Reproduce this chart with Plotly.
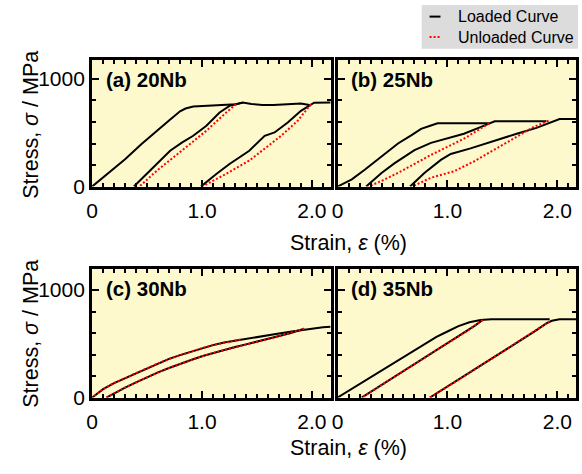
import plotly.graph_objects as go

W, H = 582, 474

# ---------------- data (strain %, stress MPa) ----------------
# (a) 20Nb
a_load_x = [0, 0.15, 0.3, 0.45, 0.6, 0.7, 0.8, 0.85, 0.92, 1.05, 1.16, 1.25, 1.31, 1.37, None,
            0.38, 0.45, 0.53, 0.62, 0.71, 0.82, 0.92, 1.04, 1.16, 1.25, 1.32, 1.37, 1.45, 1.55, 1.65, 1.78, 1.9, 1.99, None,
            0.99, 1.06, 1.13, 1.25, 1.34, 1.43, 1.57, 1.66, 1.78, 1.9, 2.02, 2.1, 2.17]
a_load_y = [0, 125, 253, 395, 530, 615, 700, 725, 744, 752, 759, 762, 765, 780, None,
            0, 70, 148, 245, 333, 410, 472, 565, 688, 750, 765, 780, 768, 758, 757, 765, 772, 755, None,
            0, 60, 117, 210, 270, 333, 472, 503, 596, 704, 780, 782, 782]
a_unl_x = [1.31, 1.22, 1.04, 0.83, 0.59, 0.43, None, 1.99, 1.87, 1.72, 1.43, 1.19, 1.0]
a_unl_y = [765, 688, 519, 349, 148, 0, None, 765, 611, 472, 241, 102, 0]

# (b) 25Nb
b_load_x = [0, 0.13, 0.25, 0.40, 0.55, 0.67, 0.76, 0.85, 0.91, 1.1, 1.3, 1.38, None,
            0.26, 0.40, 0.52, 0.70, 0.85, 1.0, 1.15, 1.30, 1.39, 1.43, 1.6, 1.75, 1.9, None,
            0.66, 0.79, 0.94, 1.03, 1.21, 1.39, 1.63, 1.81, 1.90, 2.02, 2.1, 2.17]
b_load_y = [0, 67, 158, 279, 400, 476, 536, 567, 588, 588, 588, 588, None,
            0, 127, 218, 339, 406, 445, 491, 552, 588, 606, 606, 606, 606, None,
            0, 127, 248, 303, 355, 415, 491, 545, 582, 627, 627, 627]
b_unl_x = [1.38, 1.15, 0.85, 0.55, 0.40, 0.28, None, 1.92, 1.78, 1.60, 1.42, 1.24, 1.06, 0.85, 0.68]
b_unl_y = [588, 445, 294, 127, 52, 0, None, 612, 552, 445, 339, 233, 142, 82, 0]

# (c) 30Nb
c_load_x = [0, 0.05, 0.1, 0.2, 0.3, 0.4, 0.5, 0.6, 0.7, 0.8, 0.9, 1.0, 1.1, 1.2, 1.3, 1.4, 1.5,
            1.6, 1.7, 1.8, 1.9, 2.0, 2.1, 2.17, None,
            0.13, 0.2, 0.3, 0.4, 0.5, 0.6, 0.7, 0.8, 0.9, 1.0, 1.1, 1.2, 1.3, 1.4, 1.5, 1.6, 1.7, 1.8, 1.93]
c_load_y = [0, 40, 78, 135, 180, 228, 275, 318, 360, 395, 428, 460, 488, 512, 530, 548, 565,
            580, 596, 612, 628, 645, 655, 660, None,
            0, 40, 92, 142, 190, 235, 275, 315, 350, 385, 415, 445, 470, 495, 520, 545, 570, 598, 640]
c_unl_x = [1.35, 1.3, 1.2, 1.1, 1.0, 0.9, 0.8, 0.7, 0.6, 0.5, 0.4, 0.3, 0.2, 0.1, 0.05, 0, None,
           1.93, 1.8, 1.7, 1.6, 1.5, 1.4, 1.3, 1.2, 1.1, 1.0, 0.9, 0.8, 0.7, 0.6, 0.5, 0.4, 0.3, 0.2, 0.13]
c_unl_y = [540, 530, 512, 488, 460, 428, 395, 360, 318, 275, 228, 180, 135, 78, 40, 0, None,
           640, 598, 570, 545, 520, 495, 470, 445, 415, 385, 350, 315, 275, 235, 190, 142, 92, 40, 0]

# (d) 35Nb
d_load_x = [0, 0.3, 0.6, 0.8, 0.9, 1.0, 1.1, 1.2, 1.3, 1.4, 1.6, 1.8, 1.93, None,
            0.22, 0.5, 0.8, 1.0, 1.15, 1.25, 1.32, None,
            0.84, 1.1, 1.4, 1.6, 1.8, 1.9, 1.95, 2.02, 2.1, 2.17]
d_load_y = [0, 190, 380, 505, 565, 615, 665, 700, 722, 728, 728, 728, 728, None,
            0, 180, 375, 505, 600, 670, 722, None,
            0, 165, 360, 490, 620, 690, 715, 728, 728, 728]
d_unl_x = [1.32, 1.25, 1.15, 1.0, 0.8, 0.5, 0.22, None, 1.93, 1.9, 1.8, 1.6, 1.4, 1.1, 0.84]
d_unl_y = [722, 670, 600, 505, 375, 180, 0, None, 710, 690, 620, 490, 360, 165, 0]

panel_labels = ["(a) 20Nb", "(b) 25Nb", "(c) 30Nb", "(d) 35Nb"]
x_tickvals = [0, 1, 2]
x_ticktext = ["0", "1.0", "2.0"]
y_tickvals = [0, 1000]
y_ticktext = ["0", "1000"]
legend_names = ["Loaded Curve", "Unloaded Curve"]

panels = [(a_load_x, a_load_y, a_unl_x, a_unl_y),
          (b_load_x, b_load_y, b_unl_x, b_unl_y),
          (c_load_x, c_load_y, c_unl_x, c_unl_y),
          (d_load_x, d_load_y, d_unl_x, d_unl_y)]

# ---------------- layout geometry (pixels) ----------------
col_px = [(87, 328), (335, 576)]
row_px = [(61, 191), (275, 407)]
y_ranges = [[0, 1180], [0, 1200]]
xtitle_px = [249, 459]

FONT = "Liberation Sans, Arial, sans-serif"
BG = "#FEF9CD"
DOT = "2px,2px"

fig = go.Figure()
layout = dict(width=W, height=H, margin=dict(l=0, r=0, t=0, b=0),
              paper_bgcolor="white", plot_bgcolor=BG, showlegend=False,
              font=dict(family=FONT, size=21, color="black"))

annotations = []
for i, (lx, ly, ux, uy) in enumerate(panels):
    r, c = divmod(i, 2)
    n = "" if i == 0 else str(i + 1)
    xa, ya = "x" + n, "y" + n
    fig.add_trace(go.Scatter(x=lx, y=ly, mode="lines", name=legend_names[0],
                             line=dict(color="black", width=2), xaxis=xa, yaxis=ya,
                             connectgaps=False))
    fig.add_trace(go.Scatter(x=ux, y=uy, mode="lines", name=legend_names[1],
                             line=dict(color="#ff0000", width=2, dash=DOT), xaxis=xa, yaxis=ya,
                             connectgaps=False))
    x0, x1 = col_px[c]
    y0, y1 = row_px[r]
    common = dict(showgrid=False, zeroline=False, showline=True, linewidth=3, linecolor="black",
                  mirror="allticks", ticks="inside", tickwidth=1.5, tickcolor="black",
                  fixedrange=True, tickfont=dict(size=21))
    layout["xaxis" + n] = dict(common, domain=[x0 / W, x1 / W], range=[0, 2.17], anchor=ya,
                               tickmode="array", tickvals=x_tickvals, ticktext=x_ticktext,
                               ticklen=7, ticklabelstandoff=3,
                               minor=dict(ticks="inside", tickmode="linear", tick0=0, dtick=0.1,
                                          ticklen=4, tickwidth=1.5, tickcolor="black"))
    layout["yaxis" + n] = dict(common, domain=[1 - y1 / H, 1 - y0 / H], range=y_ranges[r],
                               anchor=xa, tickmode="array", tickvals=y_tickvals,
                               ticktext=y_ticktext if c == 0 else ["", ""],
                               ticklen=7, ticklabelstandoff=0,
                               minor=dict(ticks="inside", tickmode="linear", tick0=0, dtick=200,
                                          ticklen=4, tickwidth=1.5, tickcolor="black"))
    annotations.append(dict(text="<b>" + panel_labels[i] + "</b>", xref="paper", yref="paper",
                            x=(x0 + 12) / W, y=1 - (y0 + 20) / H, xanchor="left", yanchor="middle",
                            showarrow=False, font=dict(size=20.5)))

# axis titles
for r, (y0, y1) in enumerate(row_px):
    annotations.append(dict(text="Stress, <i>σ</i> / MPa", xref="paper", yref="paper",
                            x=25 / W, y=1 - (y0 + 67) / H, textangle=-90,
                            xanchor="center", yanchor="middle", showarrow=False,
                            font=dict(size=21.5)))
    annotations.append(dict(text="Strain, <i>ε</i> (%)", xref="paper", yref="paper",
                            x=346 / W, y=1 - xtitle_px[r] / H, xanchor="center", yanchor="middle",
                            showarrow=False, font=dict(size=21.5)))

# custom legend
shapes = [dict(type="rect", xref="paper", yref="paper", x0=420 / W, x1=578 / W,
               y0=1 - 50 / H, y1=1 - 5 / H, fillcolor="#dcdcdc", line=dict(width=0), layer="above")]
leg_styles = [dict(color="black", width=2), dict(color="#ff0000", width=2, dash=DOT)]
for k, name in enumerate(legend_names):
    yy = 1 - (17 + 21 * k) / H
    shapes.append(dict(type="line", xref="paper", yref="paper", x0=428 / W, x1=439 / W,
                       y0=yy, y1=yy, line=leg_styles[k], layer="above"))
    annotations.append(dict(text=name, xref="paper", yref="paper", x=455 / W, y=yy,
                            xanchor="left", yanchor="middle", showarrow=False,
                            font=dict(size=16)))

layout["annotations"] = annotations
layout["shapes"] = shapes
fig.update_layout(**layout)
fig.write_html("out.html")
